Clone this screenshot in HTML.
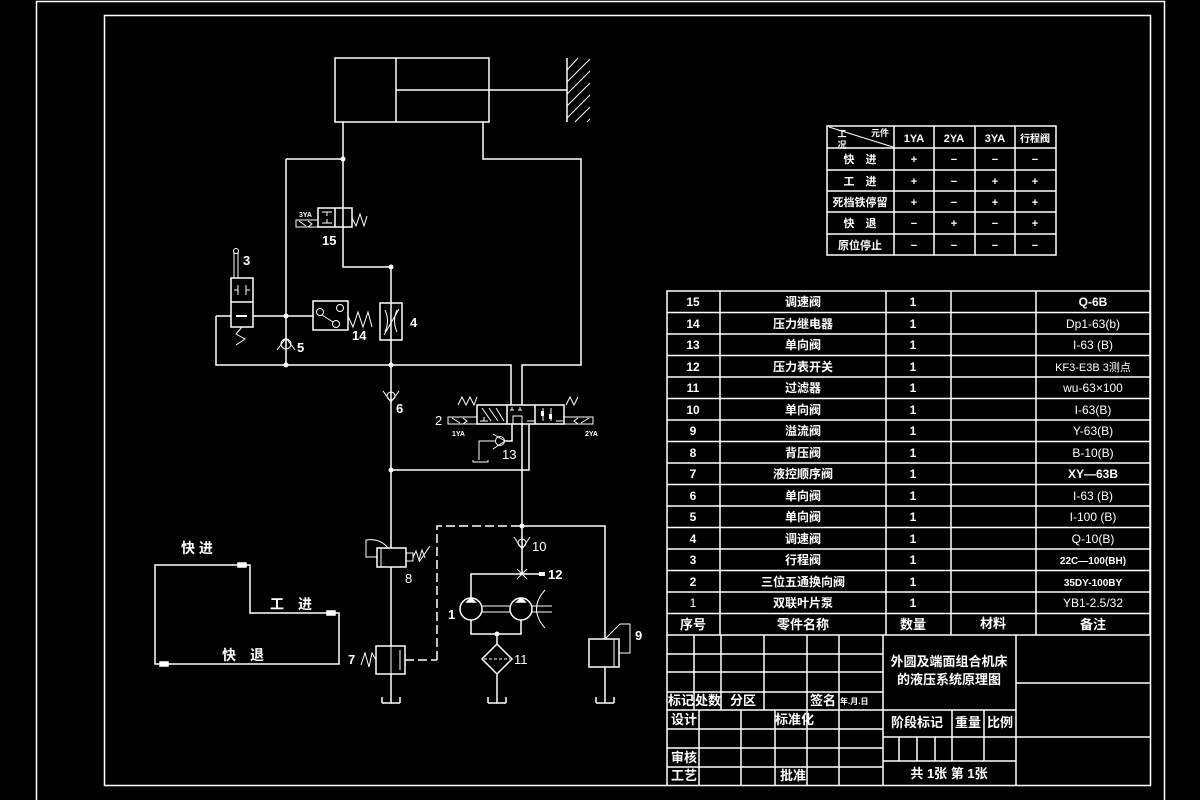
<!DOCTYPE html>
<html><head><meta charset="utf-8"><style>
html,body{margin:0;padding:0;background:#000;}
svg{display:block}
text{fill:#fff;font-family:"Liberation Sans","Noto Sans CJK SC",sans-serif;font-weight:bold;}
.c{text-anchor:middle}
</style></head><body>
<svg width="1200" height="800" viewBox="0 0 1200 800" xmlns="http://www.w3.org/2000/svg">
<g stroke="#fff" stroke-width="1.5" fill="none">
<!-- frames -->
<path d="M36.5,800 V1.5 H1164.5 V800"/>
<rect x="104.5" y="15.5" width="1046" height="770"/>
<!-- cylinder -->
<rect x="335" y="58" width="154" height="64"/>
<line x1="396" y1="58" x2="396" y2="122"/>
<line x1="396" y1="90" x2="567" y2="90"/>
<line x1="567" y1="58" x2="567" y2="122"/>
<path d="M567,70 L578,58 M567,82 L590,59 M567,94 L590,71 M567,106 L590,83 M567,118 L590,95 M575,122 L590,107 M587,122 L590,119" stroke-width="1"/>
<!-- upper lines -->
<path d="M343,122 V267 H391 V365"/>
<path d="M286,159 H343"/>
<path d="M286,159 V365"/>
<path d="M483,122 V159 H581 V365 H522 V405"/>
<path d="M216,316 V365 H511 V405"/>
<path d="M216,316 H231"/>
<path d="M253,316 H313"/>
<!-- valve 15 -->
<rect x="318" y="208" width="34" height="19" fill="#000"/>
<line x1="335" y1="208" x2="335" y2="227"/>
<line x1="343" y1="208" x2="343" y2="227"/>
<path d="M322,212 H332 M327,212 V216 M322,223 H332 M327,223 V219" stroke-width="1"/>
<rect x="296" y="220" width="22" height="7" stroke-width="1"/>
<path d="M299,221 L306,226 M308,221 L312,224 L308,227" stroke-width="1"/>
<path d="M352,218 L356,226 L360,214 L364,226 L367,216" stroke-width="1"/>
<!-- valve 4 -->
<rect x="380" y="303" width="22" height="37" fill="#000"/>
<line x1="391" y1="303" x2="391" y2="340"/>
<path d="M385,310 Q390,321 385,332 M397,310 Q392,321 397,332 M384,335 L399,309" stroke-width="1"/>
<!-- valve 14 -->
<rect x="313" y="301" width="35" height="29" fill="#000"/>
<circle cx="320" cy="312" r="3.5" stroke-width="1"/>
<circle cx="340" cy="308" r="3.5" stroke-width="1"/>
<circle cx="336" cy="324" r="3.5" stroke-width="1"/>
<path d="M322,315 L333,322" stroke-width="1"/>
<path d="M348,316 L353,327 L358,312 L363,327 L368,312 L372,327" stroke-width="1"/>
<!-- valve 3 -->
<rect x="231" y="278" width="22" height="49" fill="#000"/>
<line x1="231" y1="302" x2="253" y2="302"/>
<path d="M234,290 H238 M238,285 V295 M250,290 H246 M246,285 V295" stroke-width="1"/>
<path d="M236,316 H247" stroke-width="2"/>
<path d="M234,278 V252 M238,278 V252" stroke-width="1"/>
<circle cx="236" cy="251" r="2.5" stroke-width="1"/>
<path d="M242,327 L236,334 L245,339 L236,345" stroke-width="1"/>
<!-- check 5 -->
<circle cx="286" cy="344" r="5" stroke-width="1"/>
<path d="M277,350 L286,338 L295,350" stroke-width="1"/>
<!-- check 6 -->
<line x1="391" y1="365" x2="391" y2="703"/>
<circle cx="391" cy="396" r="4" stroke-width="1"/>
<path d="M383,391 L391,402 L399,391" stroke-width="1"/>
<!-- valve 2 -->
<rect x="477" y="405" width="87" height="19" fill="#000"/>
<line x1="507" y1="405" x2="507" y2="424"/>
<line x1="535" y1="405" x2="535" y2="424"/>
<path d="M482,408 L491,421 M489,408 L498,421 M496,408 L504,421 M480,421 H488 M484,421 V417" stroke-width="1"/>
<path d="M510,410 H514 M512,410 V407 M518,410 H522 M520,410 V407 M527,421 H535" stroke-width="1"/>
<path d="M513,424 V416 H522 V424" stroke-width="1"/>
<path d="M543,408 V421 M551,408 V421 M556,421 H563" stroke-width="1"/>
<rect x="541" y="411" width="3" height="5" fill="#fff" stroke="none"/>
<rect x="549" y="414" width="3" height="5" fill="#fff" stroke="none"/>
<rect x="448" y="417" width="29" height="7" stroke-width="1"/>
<path d="M452,418 L460,423 M463,418 L467,421 L463,424" stroke-width="1"/>
<rect x="564" y="417" width="29" height="7" stroke-width="1"/>
<path d="M589,418 L581,423 M578,418 L574,421 L578,424" stroke-width="1"/>
<path d="M458,405 L462,397 L466,405 L470,397 L474,405 L477,397" stroke-width="1"/>
<path d="M566,405 L570,397 L574,405 L578,397" stroke-width="1"/>
<!-- check 13 and returns -->
<path d="M512,424 V441 H505"/>
<circle cx="500" cy="441" r="4.5" stroke-width="1"/>
<path d="M493,434 L505,441 L493,449" stroke-width="1"/>
<path d="M495,441 H479 V460" stroke-width="1"/>
<path d="M473,460 V462 H488 V460" stroke-width="1"/>
<path d="M529,424 V470 H391"/>
<path d="M522,424 V574"/>
<!-- dashed pilot -->
<path d="M437,660 V526 H522" stroke-dasharray="9,4"/>
<path d="M405,660 H437" stroke-dasharray="9,4"/>
<path d="M522,526 H605 V639"/>
<!-- check 10 -->
<circle cx="522" cy="543" r="4" stroke-width="1"/>
<path d="M514,537 L522,549 L530,537" stroke-width="1"/>
<!-- 12 -->
<path d="M517,569 L527,579 M527,569 L517,579" stroke-width="1"/>
<path d="M522,574 H545"/>
<path d="M522,574 H471 V598"/>
<!-- pumps -->
<circle cx="471" cy="609" r="11" fill="#000"/>
<circle cx="521" cy="609" r="11" fill="#000"/>
<path d="M467,602 L471,598 L475,602 Z M517,602 L521,598 L525,602 Z" fill="#fff"/>
<path d="M482,606 H510 M482,612 H510" stroke-width="1"/>
<path d="M532,606 H552 M532,612 H552" stroke-width="1"/>
<path d="M545,590 Q528,609 545,628" stroke-width="1"/>
<path d="M471,620 V634 H521 V620"/>
<path d="M497,634 V644"/>
<path d="M497,644 L512,659 L497,674 L482,659 Z"/>
<path d="M484,659 H510" stroke-dasharray="3,2" stroke-width="1"/>
<path d="M497,674 V703"/>
<!-- valve 8 -->
<rect x="377" y="548" width="29" height="19" fill="#000"/>
<line x1="381" y1="548" x2="381" y2="567" stroke-width="1"/>
<rect x="406" y="553" width="7" height="8" stroke-width="1"/>
<path d="M413,557 L416,551 L419,560 L422,550 L425,558 M419,562 L430,546" stroke-width="1"/>
<path d="M388,548 Q380,538 366,540 V557 H377" stroke-width="1"/>
<!-- valve 7 -->
<rect x="376" y="646" width="29" height="28" fill="#000"/>
<line x1="391" y1="646" x2="391" y2="674" stroke-width="1"/>
<path d="M400,650 V670" stroke-width="1"/>
<path d="M376,660 L372,653 L369,667 L365,653 L361,665" stroke-width="1"/>
<!-- valve 9 -->
<rect x="589" y="639" width="30" height="28" fill="#000"/>
<line x1="614" y1="639" x2="614" y2="667" stroke-width="1"/>
<path d="M605,639 L620,624 H630 V653 H619" stroke-width="1"/>
<path d="M605,667 V703"/>
<!-- tanks -->
<path d="M382,703 H400 M382,697 V703 M400,697 V703"/>
<path d="M488,703 H506 M488,697 V703 M506,697 V703"/>
<path d="M596,703 H614 M596,697 V703 M614,697 V703"/>
<!-- motion diagram -->
<path d="M155,565 H250 V613 H339 V664 H155 Z"/>
<path d="M238,563 H246 V567 H238 Z M327,611 H335 V615 H327 Z M160,662 H168 V666 H160 Z" fill="#fff"/>
<!-- condition table -->
<rect x="827" y="126" width="229" height="129"/>
<path d="M827,148 H1056 M827,170 H1056 M827,191 H1056 M827,212 H1056 M827,234 H1056 M894,126 V255 M934,126 V255 M975,126 V255 M1015,126 V255"/>
<path d="M829,127 L893,147" stroke-width="1"/>
<!-- parts table -->
<rect x="667" y="291" width="483" height="344"/>
<path d="M720,291 V635 M886,291 V635 M951,291 V635 M1036,291 V635"/>
<path d="M667,312.5 H1150 M667,334 H1150 M667,355.5 H1150 M667,377 H1150 M667,398.5 H1150 M667,420 H1150 M667,441.5 H1150 M667,463 H1150 M667,484.5 H1150 M667,506 H1150 M667,527.5 H1150 M667,549 H1150 M667,570.5 H1150 M667,592 H1150 M667,613.5 H1150"/>
<!-- title block -->
<path d="M667,635 V785 M883,635 V785 M1016,635 V785"/>
<path d="M667,654 H883 M667,672 H883 M667,692 H883 M667,710 H1016 M667,729 H883 M667,748 H883 M667,767 H883"/>
<path d="M694,635 V710 M721,635 V710 M764,635 V710 M807,635 V785 M839,635 V785"/>
<path d="M699,710 V785 M741,710 V785 M775,710 V785"/>
<path d="M1016,683 H1150 M1016,737 H1150 M883,737 H1016 M883,761 H1016"/>
<path d="M952,710 V761 M984,710 V761 M899,737 V761 M917,737 V761 M935,737 V761"/>
</g>
<g fill="#fff" stroke="none">
<circle cx="343" cy="159" r="2.5"/><circle cx="391" cy="267" r="2.5"/><circle cx="286" cy="316" r="2.5"/>
<circle cx="286" cy="365" r="2.5"/><circle cx="391" cy="365" r="2.5"/><circle cx="391" cy="470" r="2.5"/>
<circle cx="522" cy="526" r="2.5"/><circle cx="497" cy="634" r="2.5"/>
<rect x="539" y="572" width="6" height="4"/>
</g>
<!-- circuit labels -->
<g font-size="13">
<text x="322" y="245">15</text><text x="410" y="327">4</text><text x="352" y="340">14</text>
<text x="243" y="265">3</text><text x="297" y="352">5</text><text x="396" y="413">6</text>
<text x="435" y="425" style="font-weight:normal">2</text><text x="502" y="459" style="font-weight:normal">13</text>
<text x="532" y="551" style="font-weight:normal">10</text><text x="548" y="579">12</text>
<text x="448" y="619">1</text><text x="514" y="664" style="font-weight:normal">11</text>
<text x="405" y="583" style="font-weight:normal">8</text><text x="348" y="664">7</text><text x="635" y="640">9</text>
</g>
<g font-size="7"><text x="299" y="217">3YA</text><text x="452" y="436">1YA</text><text x="585" y="436">2YA</text></g>
<g font-size="14"><text x="181" y="553">快 进</text><text x="270" y="609">工　进</text><text x="222" y="660">快　退</text></g>
<!-- condition table text -->
<g font-size="11" class="c">
<text x="842" y="137" font-size="9">工</text><text x="880" y="136" font-size="9">元件</text><text x="842" y="148" font-size="9">况</text>
<text x="914" y="142">1YA</text><text x="954" y="142">2YA</text><text x="995" y="142">3YA</text><text x="1035" y="142" font-size="10">行程阀</text>
<text x="860" y="163">快　进</text><text x="860" y="185">工　进</text><text x="860" y="206">死档铁停留</text><text x="860" y="227">快　退</text><text x="860" y="249">原位停止</text>
<text x="914" y="163">+</text><text x="954" y="163">−</text><text x="995" y="163">−</text><text x="1035" y="163">−</text>
<text x="914" y="185">+</text><text x="954" y="185">−</text><text x="995" y="185">+</text><text x="1035" y="185">+</text>
<text x="914" y="206">+</text><text x="954" y="206">−</text><text x="995" y="206">+</text><text x="1035" y="206">+</text>
<text x="914" y="227">−</text><text x="954" y="227">+</text><text x="995" y="227">−</text><text x="1035" y="227">+</text>
<text x="914" y="249">−</text><text x="954" y="249">−</text><text x="995" y="249">−</text><text x="1035" y="249">−</text>
</g>
<!-- parts table text -->
<g font-size="12" class="c">
<text x="693" y="306">15</text><text x="803" y="306">调速阀</text><text x="913" y="306">1</text><text x="1093" y="306">Q-6B</text>
<text x="693" y="328">14</text><text x="803" y="328">压力继电器</text><text x="913" y="328">1</text><text x="1093" y="328" style="font-weight:normal">Dp1-63(b)</text>
<text x="693" y="349">13</text><text x="803" y="349">单向阀</text><text x="913" y="349">1</text><text x="1093" y="349" style="font-weight:normal">I-63 (B)</text>
<text x="693" y="371">12</text><text x="803" y="371">压力表开关</text><text x="913" y="371">1</text><text x="1093" y="371" style="font-weight:normal" font-size="11">KF3-E3B 3测点</text>
<text x="693" y="392">11</text><text x="803" y="392">过滤器</text><text x="913" y="392">1</text><text x="1093" y="392" style="font-weight:normal">wu-63×100</text>
<text x="693" y="414">10</text><text x="803" y="414">单向阀</text><text x="913" y="414">1</text><text x="1093" y="414" style="font-weight:normal">I-63(B)</text>
<text x="693" y="435">9</text><text x="803" y="435">溢流阀</text><text x="913" y="435">1</text><text x="1093" y="435" style="font-weight:normal">Y-63(B)</text>
<text x="693" y="457">8</text><text x="803" y="457">背压阀</text><text x="913" y="457">1</text><text x="1093" y="457" style="font-weight:normal">B-10(B)</text>
<text x="693" y="478">7</text><text x="803" y="478">液控顺序阀</text><text x="913" y="478">1</text><text x="1093" y="478">XY—63B</text>
<text x="693" y="500">6</text><text x="803" y="500">单向阀</text><text x="913" y="500">1</text><text x="1093" y="500" style="font-weight:normal">I-63 (B)</text>
<text x="693" y="521">5</text><text x="803" y="521">单向阀</text><text x="913" y="521">1</text><text x="1093" y="521" style="font-weight:normal">I-100 (B)</text>
<text x="693" y="543">4</text><text x="803" y="543">调速阀</text><text x="913" y="543">1</text><text x="1093" y="543" style="font-weight:normal">Q-10(B)</text>
<text x="693" y="564">3</text><text x="803" y="564">行程阀</text><text x="913" y="564">1</text><text x="1093" y="564" font-size="10">22C—100(BH)</text>
<text x="693" y="586">2</text><text x="803" y="586">三位五通换向阀</text><text x="913" y="586">1</text><text x="1093" y="586" font-size="10">35DY-100BY</text>
<text x="693" y="607" style="font-weight:normal">1</text><text x="803" y="607">双联叶片泵</text><text x="913" y="607">1</text><text x="1093" y="607" style="font-weight:normal">YB1-2.5/32</text>
<text x="693" y="629" font-size="13">序号</text><text x="803" y="629" font-size="13">零件名称</text><text x="913" y="629" font-size="13">数量</text><text x="993" y="628" font-size="13">材料</text><text x="1093" y="629" font-size="13">备注</text>
</g>
<!-- title block text -->
<g font-size="13">
<text x="949" y="666" class="c">外圆及端面组合机床</text>
<text x="949" y="684" class="c">的液压系统原理图</text>
<text x="668" y="705">标记</text><text x="695" y="705">处数</text><text x="730" y="705">分区</text><text x="810" y="705">签名</text><text x="840" y="704" font-size="8">年.月.日</text>
<text x="671" y="724">设计</text><text x="775" y="724">标准化</text>
<text x="671" y="762">审核</text><text x="671" y="780">工艺</text><text x="780" y="780">批准</text>
<text x="917" y="727" class="c">阶段标记</text><text x="968" y="727" class="c">重量</text><text x="1000" y="727" class="c">比例</text>
<text x="949" y="778" class="c">共 1张 第 1张</text>
</g>
</svg>
</body></html>
